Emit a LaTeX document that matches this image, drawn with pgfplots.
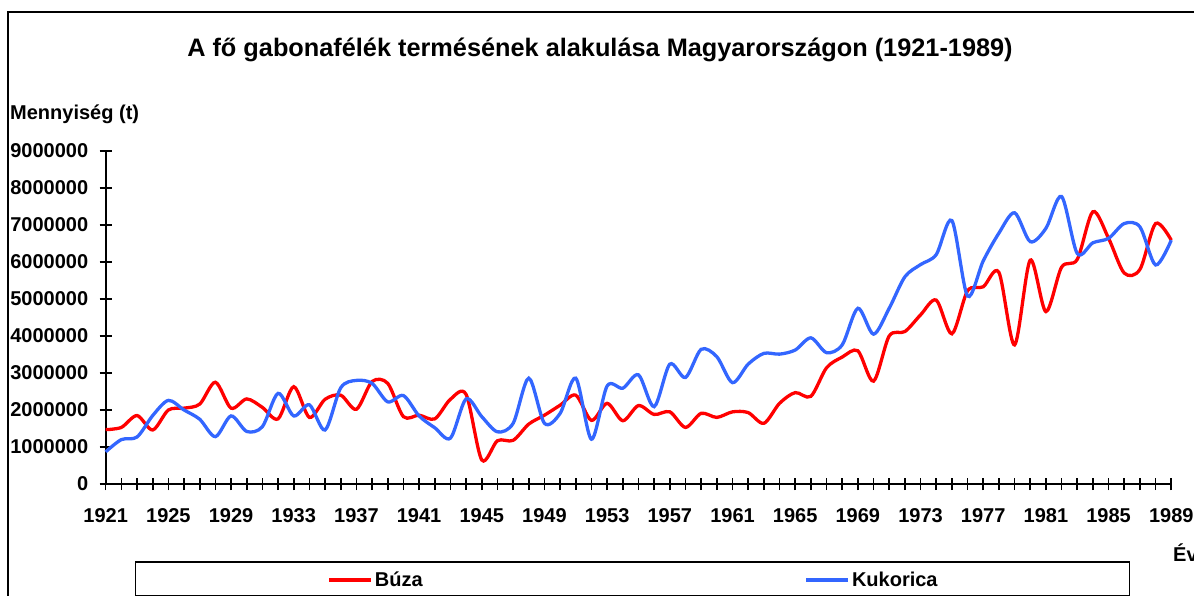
\documentclass[border=0pt]{standalone}
\usepackage{pgfplots}
\pgfplotsset{compat=1.18}
\usepackage{pgfplotstable}
\usepackage{fontspec}
\setmainfont{Liberation Sans}
\definecolor{buza}{RGB}{255,0,0}
\definecolor{kuk}{RGB}{51,102,255}
\pgfplotstableread{
year buza kukorica
1921 1470000 870000
1922 1530000 1200000
1923 1850000 1270000
1924 1460000 1850000
1925 2000000 2260000
1926 2050000 2000000
1927 2160000 1750000
1928 2750000 1280000
1929 2050000 1840000
1930 2300000 1420000
1931 2070000 1550000
1932 1760000 2450000
1933 2630000 1840000
1934 1800000 2140000
1935 2290000 1460000
1936 2400000 2600000
1937 2020000 2800000
1938 2770000 2720000
1939 2720000 2220000
1940 1820000 2390000
1941 1860000 1840000
1942 1760000 1520000
1943 2290000 1240000
1944 2420000 2300000
1945 650000 1820000
1946 1170000 1410000
1947 1180000 1640000
1948 1620000 2860000
1949 1860000 1640000
1950 2130000 1910000
1951 2400000 2860000
1952 1720000 1210000
1953 2180000 2650000
1954 1710000 2590000
1955 2120000 2950000
1956 1880000 2090000
1957 1950000 3240000
1958 1530000 2880000
1959 1910000 3640000
1960 1800000 3440000
1961 1950000 2740000
1962 1930000 3240000
1963 1640000 3530000
1964 2180000 3510000
1965 2470000 3620000
1966 2370000 3950000
1967 3140000 3550000
1968 3430000 3760000
1969 3600000 4750000
1970 2780000 4050000
1971 4000000 4750000
1972 4120000 5600000
1973 4570000 5930000
1974 4970000 6200000
1975 4060000 7120000
1976 5220000 5080000
1977 5330000 6030000
1978 5720000 6780000
1979 3760000 7330000
1980 6050000 6550000
1981 4660000 6910000
1982 5860000 7770000
1983 6070000 6230000
1984 7360000 6520000
1985 6640000 6640000
1986 5700000 7040000
1987 5800000 6950000
1988 7040000 5920000
1989 6590000 6590000
}\datatable
\begin{document}
\begin{tikzpicture}[x=1pt,y=1pt]
\useasboundingbox (0pt,0pt) rectangle (1194pt,-596pt);
\begin{scope}
\clip (0pt,0pt) rectangle (1194pt,-596pt);
\draw[line width=2pt] (7.5pt,-12.5pt) rectangle (1300pt,-700pt);
\node[anchor=base, inner sep=0pt, font=\bfseries\fontsize{25.3}{29}\selectfont] at (600pt,-57pt) {A fő gabonafélék termésének alakulása Magyarországon (1921-1989)};
\node[anchor=base west, inner sep=0pt, font=\bfseries\fontsize{20}{24}\selectfont] at (10pt,-120pt) {Mennyiség (t)};
\node[anchor=base west, inner sep=0pt, font=\bfseries\fontsize{20}{24}\selectfont] at (1173pt,-561pt) {Év};
\draw[line width=1.5pt] (135.5pt,-562pt) rectangle (1129.5pt,-595.5pt);
\end{scope}
\begin{axis}[
  at={(105.7pt,-484pt)}, anchor=south west,
  scale only axis, width=1065.6pt, height=333pt,
  xmin=1921, xmax=1989, ymin=0, ymax=9000000,
  axis lines*=left,
  axis line style={line width=1.8pt, black, -},
  xtick={1921,1925,1929,1933,1937,1941,1945,1949,1953,1957,1961,1965,1969,1973,1977,1981,1985,1989},
  minor xtick={1921,1922,...,1989},
  ytick={0,1000000,2000000,3000000,4000000,5000000,6000000,7000000,8000000,9000000},
  scaled y ticks=false, scaled x ticks=false,
  tick align=center,
  major tick length=12pt, minor tick length=12pt,
  every tick/.style={line width=1.6pt, black},
  every minor tick/.style={line width=1.6pt, black},
  ticklabel style={font=\bfseries\fontsize{20}{24}\selectfont},
  /pgf/number format/assume math mode=true,
  xticklabel style={/pgf/number format/1000 sep={}, yshift=-15pt},
  yticklabel style={/pgf/number format/fixed, /pgf/number format/precision=0, /pgf/number format/1000 sep={}, xshift=-8pt},
  clip=false,
  legend columns=2,
  legend image code/.code={\draw[#1, line width=3.3pt] (0pt,0pt) -- (42pt,0pt);},
  legend style={at={(0.2081,-0.288)}, anchor=west, draw=none, fill=none, inner sep=0pt,
    font=\bfseries\fontsize{20}{24}\selectfont,
    nodes={inner sep=2pt},
    /tikz/every even column/.append style={column sep=380pt}},
]
\addplot[buza, line width=3.3pt, smooth, tension=0.5, no marks] table[x=year, y=buza] {\datatable};
\addlegendentry{Búza}
\addplot[kuk, line width=3.3pt, smooth, tension=0.5, no marks] table[x=year, y=kukorica] {\datatable};
\addlegendentry{Kukorica}
\end{axis}
\end{tikzpicture}
\end{document}
